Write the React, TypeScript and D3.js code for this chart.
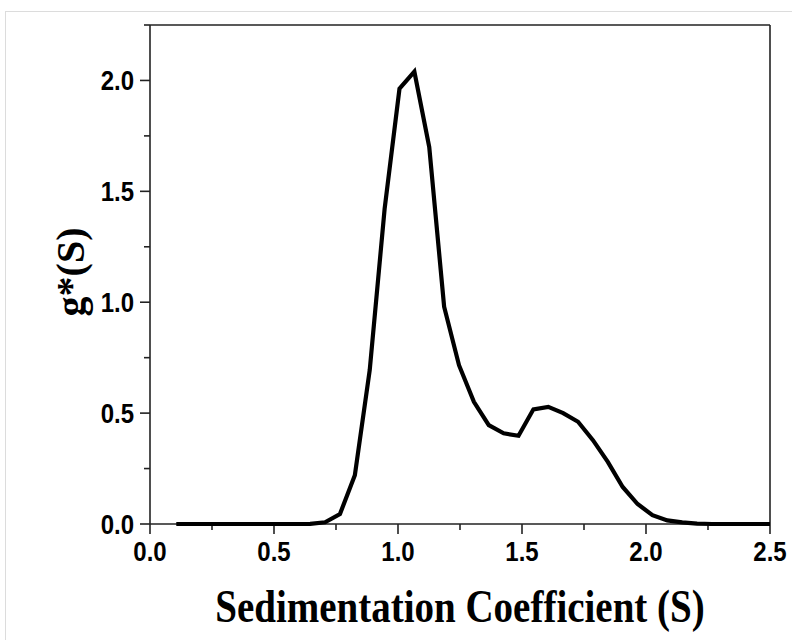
import React from "react";
import * as d3 from "d3";

// Sedimentation coefficient grid (S) and the g*(S) distribution
const sValues = [
  0.106, 0.166, 0.226, 0.286, 0.346, 0.406, 0.466, 0.526, 0.586, 0.646,
  0.706, 0.766, 0.826, 0.886, 0.946, 1.006, 1.066, 1.126, 1.186, 1.246,
  1.306, 1.366, 1.426, 1.486, 1.546, 1.606, 1.666, 1.726, 1.786, 1.846,
  1.906, 1.966, 2.026, 2.086, 2.146, 2.206, 2.266, 2.326, 2.386, 2.446, 2.5,
];
const gValues = [
  0, 0, 0, 0, 0, 0, 0, 0, 0, 0.001,
  0.008, 0.045, 0.22, 0.694, 1.42, 1.963, 2.04, 1.7, 0.98, 0.716,
  0.551, 0.446, 0.409, 0.398, 0.517, 0.528, 0.5, 0.461, 0.378, 0.28,
  0.167, 0.09, 0.04, 0.016, 0.007, 0.002, 0, 0, 0, 0, 0,
];

const xMajorTicks = [0, 0.5, 1.0, 1.5, 2.0, 2.5];
const xMinorTicks = [0.25, 0.75, 1.25, 1.75, 2.25];
const yMajorTicks = [0, 0.5, 1.0, 1.5, 2.0];
const yMinorTicks = [0.25, 0.75, 1.25, 1.75, 2.25];

const xTitle = "Sedimentation Coefficient (S)";
const yTitle = "g*(S)";

const W = 792;
const H = 640;
const left = 150;
const right = 770;
const top = 25;
const bottom = 524;

export default function App() {
  const x = d3.scaleLinear().domain([0, 2.5]).range([left, right]);
  const y = d3.scaleLinear().domain([0, 2.25]).range([bottom, top]);

  const pts: [number, number][] = sValues.map((s, i) => [s, gValues[i]]);
  const line = d3
    .line<[number, number]>()
    .x((d) => x(d[0]))
    .y((d) => y(d[1]));

  const majorLen = 10;
  const minorLen = 6;
  const axisColor = "#222";
  const tickFont = "'Liberation Sans', Arial, sans-serif";
  const titleFont = "'Liberation Serif', 'Times New Roman', serif";
  const fmt = d3.format(".1f");

  return (
    <svg
      width={W}
      height={H}
      style={{ position: "absolute", left: 0, top: 0, background: "#fff" }}
    >
      {/* outer panel border */}
      <rect
        x={5.5}
        y={11.5}
        width={W}
        height={H}
        fill="none"
        stroke="#dcdcdc"
        strokeWidth={1}
      />

      {/* frame */}
      <line x1={left} x2={right} y1={top} y2={top} stroke={axisColor} strokeWidth={1.6} />
      <line x1={right} x2={right} y1={top} y2={bottom} stroke={axisColor} strokeWidth={1.6} />
      <line x1={left} x2={right} y1={bottom} y2={bottom} stroke={axisColor} strokeWidth={1.6} />
      <line x1={left} x2={left} y1={top} y2={bottom} stroke={axisColor} strokeWidth={1.6} />

      {/* x ticks */}
      {xMajorTicks.map((t) => (
        <line
          key={"xM" + t}
          x1={x(t)}
          x2={x(t)}
          y1={bottom}
          y2={bottom + majorLen}
          stroke={axisColor}
          strokeWidth={1.6}
        />
      ))}
      {xMinorTicks.map((t) => (
        <line
          key={"xm" + t}
          x1={x(t)}
          x2={x(t)}
          y1={bottom}
          y2={bottom + minorLen}
          stroke={axisColor}
          strokeWidth={1.6}
        />
      ))}
      {xMajorTicks.map((t) => (
        <text
          key={"xl" + t}
          transform={`translate(${x(t)}, ${bottom + 37}) scale(1, 1.12)`}
          textAnchor="middle"
          fontFamily={tickFont}
          fontWeight="bold"
          fontSize={24}
          fill="#000"
        >
          {fmt(t)}
        </text>
      ))}

      {/* y ticks */}
      {yMajorTicks.map((t) => (
        <line
          key={"yM" + t}
          x1={left - majorLen}
          x2={left}
          y1={y(t)}
          y2={y(t)}
          stroke={axisColor}
          strokeWidth={1.6}
        />
      ))}
      {yMinorTicks.map((t) => (
        <line
          key={"ym" + t}
          x1={left - minorLen}
          x2={left}
          y1={y(t)}
          y2={y(t)}
          stroke={axisColor}
          strokeWidth={1.6}
        />
      ))}
      {yMajorTicks.map((t) => (
        <text
          key={"yl" + t}
          transform={`translate(${left - 16}, ${y(t) + 9.5}) scale(1, 1.12)`}
          textAnchor="end"
          fontFamily={tickFont}
          fontWeight="bold"
          fontSize={24}
          fill="#000"
        >
          {fmt(t)}
        </text>
      ))}

      {/* distribution curve */}
      <path
        d={line(pts) ?? ""}
        fill="none"
        stroke="#000"
        strokeWidth={4.2}
        strokeLinejoin="miter"
        strokeLinecap="butt"
      />

      {/* axis titles */}
      <text
        transform="translate(460, 622) scale(1, 1.2)"
        textAnchor="middle"
        fontFamily={titleFont}
        fontWeight="bold"
        fontSize={39}
        fill="#000"
      >
        {xTitle}
      </text>
      <text
        transform="translate(84, 272) rotate(-90)"
        textAnchor="middle"
        fontFamily={titleFont}
        fontWeight="bold"
        fontSize={40}
        fill="#000"
      >
        {yTitle}
      </text>
    </svg>
  );
}
